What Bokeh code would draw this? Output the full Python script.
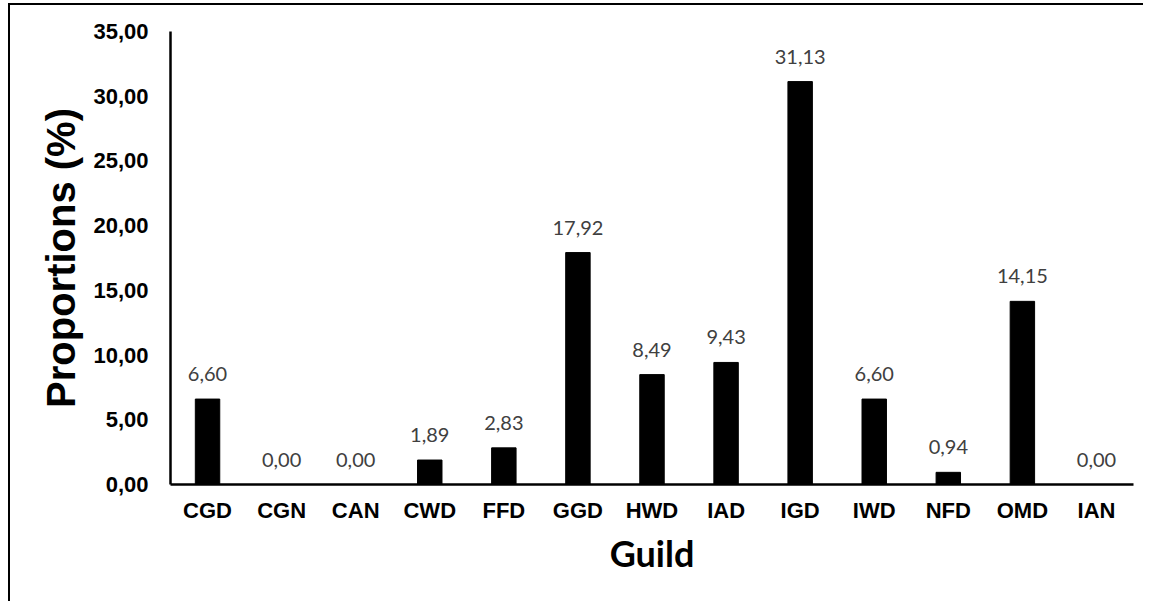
from bokeh.plotting import figure
from bokeh.layouts import column
from bokeh.models import ColumnDataSource, FixedTicker, FactorRange, Range1d, InlineStyleSheet
from bokeh.core.properties import value
from bokeh.embed import file_html
from bokeh.resources import INLINE

guilds = ["CGD", "CGN", "CAN", "CWD", "FFD", "GGD", "HWD", "IAD", "IGD", "IWD", "NFD", "OMD", "IAN"]
proportions = [6.60, 0.00, 0.00, 1.89, 2.83, 17.92, 8.49, 9.43, 31.13, 6.60, 0.94, 14.15, 0.00]
y_ticks = [0, 5, 10, 15, 20, 25, 30, 35]
y_tick_labels = ["0,00", "5,00", "10,00", "15,00", "20,00", "25,00", "30,00", "35,00"]

labels = [f"{v:.2f}".replace(".", ",") for v in proportions]
src = ColumnDataSource(dict(g=guilds, v=proportions, lab=labels))

p = figure(width=1143, height=601, x_range=FactorRange(factors=guilds, range_padding=0),
           y_range=Range1d(0, 35), output_backend="svg", toolbar_location=None,
           min_border_left=170, min_border_top=31, min_border_right=10, min_border_bottom=117)
p.outline_line_color = None
p.background_fill_color = "white"
p.border_fill_color = "white"
p.xgrid.grid_line_color = None
p.ygrid.grid_line_color = None

p.vbar(x="g", top="v", width=0.33, source=src, fill_color="black", line_color="black")
p.text(x="g", y="v", text="lab", source=src, text_align="center", text_baseline="alphabetic",
       y_offset=-25, text_font=value("Lato"), text_font_size="20px", text_color="#404040")

for ax in (p.xaxis[0], p.yaxis[0]):
    ax.axis_line_width = 2.5
    ax.axis_line_color = "black"
    ax.axis_line_join = "round"
    ax.major_tick_line_color = None
    ax.minor_tick_line_color = None
    ax.major_tick_out = 0
    ax.major_tick_in = 0
    ax.major_label_text_font = "Liberation Sans"
    ax.major_label_text_font_style = "bold"
    ax.major_label_text_font_size = "22px"
    ax.major_label_text_color = "black"

p.yaxis.ticker = FixedTicker(ticks=y_ticks)
p.yaxis.major_label_overrides = {t: l for t, l in zip(y_ticks, y_tick_labels)}
p.yaxis.major_label_standoff = 22
p.yaxis.axis_label = "Proportions (%)"
p.yaxis.axis_label_text_font = "Liberation Sans"
p.yaxis.axis_label_text_font_style = "bold"
p.yaxis.axis_label_text_font_size = "40px"
p.yaxis.axis_label_text_color = "black"
p.yaxis.axis_label_standoff = 7

p.xaxis.major_label_standoff = 13
p.xaxis.axis_label = "Guild"
p.xaxis.axis_label_text_font = "Lato"
p.xaxis.axis_label_text_font_style = "bold"
p.xaxis.axis_label_text_font_size = "36px"
p.xaxis.axis_label_text_color = "black"
p.xaxis.axis_label_standoff = 5

frame_css = InlineStyleSheet(css="""
:host { position: relative; }
:host::before { content: ''; position: absolute; left: 8px; top: 3px; width: 1135px;
  height: 598px; box-sizing: border-box; border-top: 2px solid #000; border-left: 2px solid #000;
  pointer-events: none; z-index: 10; }
""")
layout = column(p, stylesheets=[frame_css])

open("out.html", "w").write(file_html(layout, INLINE))
